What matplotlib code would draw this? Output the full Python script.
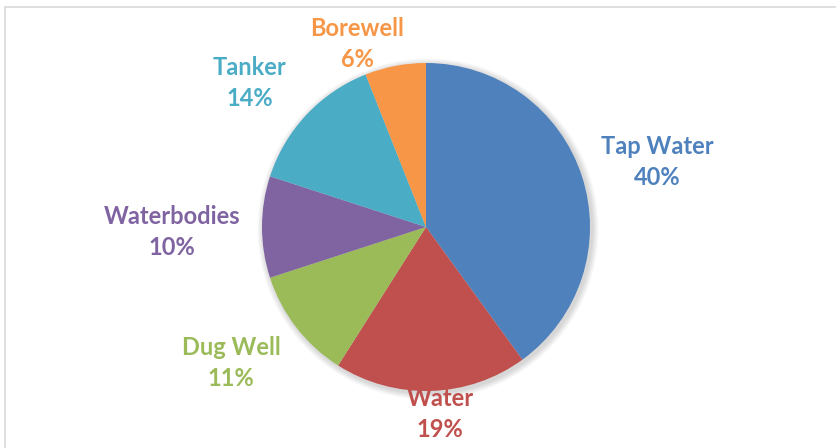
"""Pie chart of household drinking water sources."""

import matplotlib
matplotlib.use("Agg")
import matplotlib.pyplot as plt
from matplotlib.patches import Circle, Rectangle

W, H = 837, 448

sources = ["Tap Water", "Water", "Dug Well", "Waterbodies", "Tanker", "Borewell"]
shares = [40, 19, 11, 10, 14, 6]
colors = ["#4F81BD", "#C0504D", "#9BBB59", "#8064A2", "#4BACC6", "#F79646"]

# label anchor points in pixel space (x, y from top)
label_pos = {
    "Tap Water": (657, 162),
    "Water": (440, 414),
    "Dug Well": (231, 363),
    "Waterbodies": (172, 232),
    "Tanker": (250, 83),
    "Borewell": (357, 44),
}

CX, CY, R = 426, H - 227, 164

fig = plt.figure(figsize=(W / 100, H / 100), dpi=100)
ax = fig.add_axes([0, 0, 1, 1])

wedges, _ = ax.pie(shares, colors=colors, startangle=90, counterclock=False,
                   center=(CX, CY), radius=R,
                   wedgeprops=dict(linewidth=0))
for w in wedges:
    w.set_zorder(2)

# pie() sets its own limits, so put the pixel frame back afterwards
ax.set_xlim(0, W)
ax.set_ylim(0, H)
ax.set_aspect("equal")
ax.set_axis_off()

# chart frame, running off the right and bottom edges
ax.add_patch(Rectangle((5, -20), W + 40, H - 7 + 20, fill=False,
                       edgecolor="#D9D9D9", linewidth=1.2))

# soft drop shadow behind the pie
for i in range(8):
    ax.add_patch(Circle((CX + 2, CY - 2), R + 1 + i * 0.8, color="black",
                        alpha=0.018, linewidth=0, zorder=1))

font = dict(family=["Lato", "DejaVu Sans"], fontweight="bold", fontsize=17)
for name, val, clr in zip(sources, shares, colors):
    x, y = label_pos[name]
    ax.text(x, H - y, f"{name}\n{val}%", color=clr, ha="center", va="center",
            linespacing=1.45, **font)

fig.savefig("out.png", dpi=100)
